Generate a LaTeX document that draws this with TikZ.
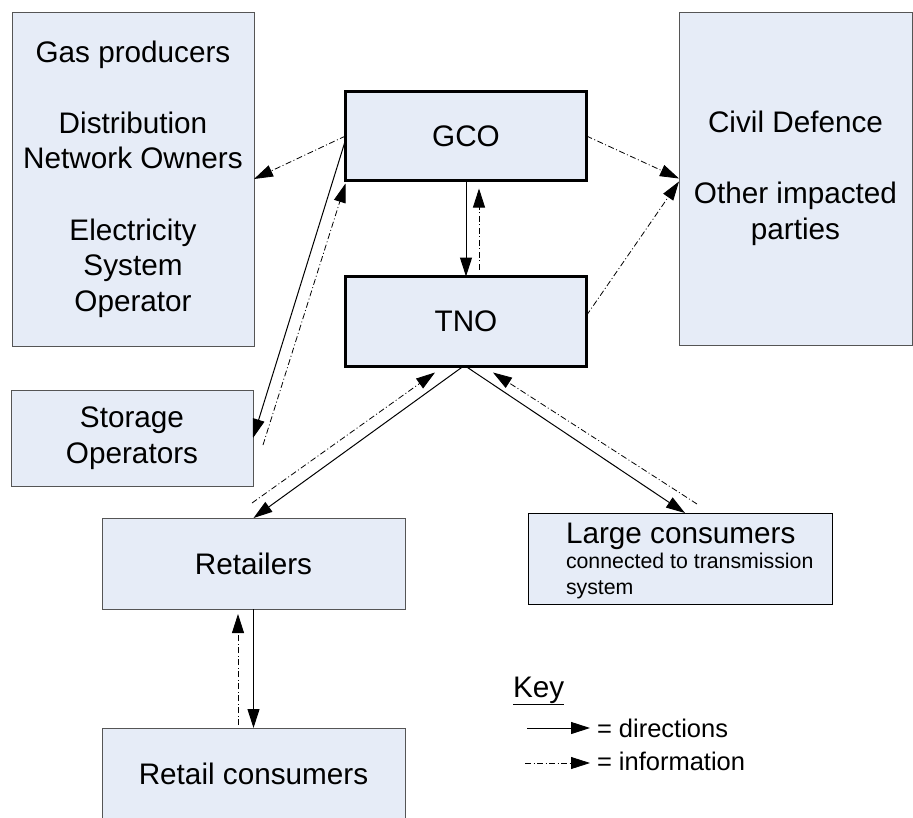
\documentclass[tikz,border=0pt]{standalone}
\usepackage{fontspec}
\setmainfont{Liberation Sans}
\usetikzlibrary{arrows.meta}
\definecolor{boxfill}{RGB}{230,236,247}
\definecolor{boxline}{RGB}{85,85,85}
\begin{document}
\begin{tikzpicture}[x=1pt,y=-1pt,
  every node/.style={font=\fontsize{29.7}{35.6}\selectfont, inner sep=0pt, outer sep=0pt},
  box/.style={draw=boxline, fill=boxfill, line width=1pt, align=center},
  thickbox/.style={draw=black, fill=boxfill, line width=3pt, align=center},
  keytext/.style={font=\fontsize{25.5}{30}\selectfont, anchor=base west},
  smalltext/.style={font=\fontsize{21.3}{26}\selectfont, anchor=base west},
  dir/.style={line width=1pt, -{Triangle[length=19pt,width=12pt]}},
  info/.style={line width=0.8pt, dash pattern=on 6pt off 2.5pt on 1pt off 2.5pt, -{Triangle[length=19pt,width=12pt]}}]
\useasboundingbox (0,0) rectangle (913,817);
\begin{scope}
\clip (0,0) rectangle (913,817);
\node[box, minimum width=242, minimum height=334] (gp) at (133,179)
  {Gas producers\\[35.6pt]Distribution\\Network Owners\\[35.6pt]Electricity\\System\\Operator};
\node[box, minimum width=242, minimum height=96] (so) at (132,438) {Storage\\Operators};
\node[thickbox, minimum width=241, minimum height=89] (gco) at (466,136) {GCO};
\node[thickbox, minimum width=241, minimum height=90] (tno) at (466,321.5) {TNO};
\node[box, minimum width=233, minimum height=333] (cd) at (795.5,178.5)
  {Civil Defence\\[35.6pt]Other impacted\\parties};
\node[box, minimum width=303, minimum height=91] (ret) at (253.5,563.5) {Retailers};
\node[box, minimum width=303, minimum height=92] (rc) at (253.5,774) {Retail consumers};
\node[box, draw=black, minimum width=304, minimum height=91] (lc) at (680,558.5) {};
\end{scope}
\node[anchor=base west] (lc1) at (566,543) {Large consumers};
\node[smalltext] (lc2) at (566,568) {connected to transmission};
\node[smalltext] (lc3) at (566,594) {system};
% key
\node[anchor=base west] (key) at (513,697) {\underline{Key}};
\node[keytext] (kd) at (597,737) {= directions};
\node[keytext] (ki) at (597,770) {= information};
\coordinate (kd0) at (527,728);
\coordinate (kd1) at (590,728);
\coordinate (ki0) at (525,763);
\coordinate (ki1) at (590,763);
\draw[dir] (kd0) -- (kd1);
\draw[info] (ki0) -- (ki1);
% connectors
\draw[info] (gco.west) -- (gp.east);
\draw[dir] ([yshift=-4pt]gco.west) -- (so.east);
\draw[info] ([xshift=10pt,yshift=-7pt]so.east) -- ([yshift=-3pt]gco.south west);
\draw[info] (gco.east) -- (cd.west);
\draw[info] ([yshift=6pt]tno.east) -- ([yshift=-3pt]cd.west);
\draw[dir] (gco.south) -- (tno.north);
\draw[info] ([xshift=13pt,yshift=7pt]tno.north) -- ([xshift=13pt,yshift=-8pt]gco.south);
\draw[dir] ([xshift=-3pt]tno.south) -- (ret.north);
\draw[info] ([xshift=-1.5pt,yshift=15pt]ret.north) -- ([xshift=-31pt,yshift=-6pt]tno.south);
\draw[dir] (tno.south) -- ([xshift=5pt]lc.north);
\draw[info] ([xshift=17pt,yshift=9pt]lc.north) -- ([xshift=27pt,yshift=-6pt]tno.south);
\draw[dir] (ret.south) -- (rc.north);
\draw[info] ([xshift=-15.5pt,yshift=3pt]rc.north) -- ([xshift=-15.5pt,yshift=-5pt]ret.south);
\end{tikzpicture}
\end{document}
